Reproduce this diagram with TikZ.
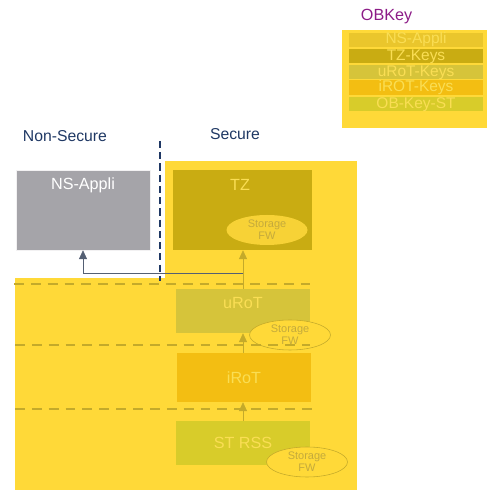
\documentclass[tikz,border=0pt]{standalone}
\usepackage{fontspec}
\setmainfont{Liberation Sans}
\usetikzlibrary{shapes.geometric,arrows.meta}
\definecolor{ylw}{RGB}{255,217,56}
\definecolor{tzc}{RGB}{201,172,18}
\definecolor{urotc}{RGB}{214,196,58}
\definecolor{irotc}{RGB}{243,190,18}
\definecolor{strssc}{RGB}{216,204,42}
\definecolor{nsbar}{RGB}{234,198,44}
\definecolor{olive}{RGB}{196,170,42}
\definecolor{pale}{RGB}{250,222,84}
\definecolor{stotxt}{RGB}{196,170,60}
\definecolor{nsgray}{RGB}{165,164,169}
\definecolor{navy}{RGB}{31,56,100}
\definecolor{obpurple}{RGB}{140,28,135}
\begin{document}
\begin{tikzpicture}
[blk/.style={rectangle,minimum width=3.35cm,inner sep=0pt},
 bar/.style={rectangle,minimum width=3.35cm,minimum height=0.35cm,inner sep=0pt,
   font=\fontsize{11}{11}\selectfont,text=pale},
 lbl/.style={font=\fontsize{11.5}{13}\selectfont,text=pale},
 sto/.style={ellipse,draw=olive,fill=ylw,minimum width=2.025cm,minimum height=0.75cm,
   inner sep=0pt,align=center,font=\fontsize{7.8}{8.6}\selectfont,text=stotxt},
 ar/.style={-{Triangle[length=2.2mm,width=2mm]},olive,thin},
 sep/.style={olive,line width=2pt,dash pattern=on 7pt off 5pt}]
\useasboundingbox (0,0) rectangle (12.2,12.25);

% OBKey
\node [anchor=west,text=obpurple,font=\fontsize{11.5}{13}\selectfont] at (8.9,11.825) (obtitle) {OBKey};
\node [rectangle,fill=ylw,minimum width=3.625cm,minimum height=2.45cm] at (10.3625,10.275) (obkey) {};
\node [bar,fill=nsbar] at (10.4,11.25) (kns) {NS-Appli};
\node [bar,fill=tzc] at (10.4,10.8375) (ktz) {TZ-Keys};
\node [bar,fill=urotc] at (10.4,10.4375) (kurot) {uRoT-Keys};
\node [bar,fill=irotc] at (10.4,10.0625) (kirot) {iROT-Keys};
\node [bar,fill=strssc] at (10.4,9.6375) (kst) {OB-Key-ST};

% zones
\node [text=navy,font=\fontsize{11.2}{12}\selectfont] at (1.625,8.85) (nstitle) {Non-Secure};
\node [text=navy,font=\fontsize{11.2}{12}\selectfont] at (5.875,8.9) (stitle) {Secure};
\fill [ylw] (4.125,5.25) rectangle (8.925,8.225);
\fill [ylw] (0.375,0) rectangle (8.925,5.3);

% boxes
\node [blk,fill=nsgray,draw=white!85!nsgray,minimum height=2cm] at (2.075,7) (nsappli) {};
\node [lbl,text=white] at (2.075,7.625) {NS-Appli};
\node [blk,fill=tzc,minimum width=3.475cm,minimum height=2cm] at (6.0625,7) (tz) {};
\node [lbl] at (6.0,7.625) {TZ};
\node [sto,draw=none,fill=ylw!97!black] at (6.675,6.5) (tzsto) {Storage\\FW};
\node [blk,fill=urotc,minimum height=1.1cm] at (6.075,4.475) (urot) {};
\node [lbl] at (6.075,4.675) {uRoT};
\node [blk,fill=irotc,minimum height=1.225cm] at (6.1,2.8125) (irot) {};
\node [lbl] at (6.1,2.8) {iRoT};
\node [blk,fill=strssc,minimum height=1.1cm] at (6.075,1.175) (strss) {};
\node [lbl] at (6.075,1.175) {ST RSS};
\node [sto] at (7.25,3.875) (urotsto) {Storage\\FW};
\node [sto] at (7.675,0.7) (strsssto) {Storage\\FW};

% separators
\draw [sep] (0.35,5.15) -- (7.75,5.15);
\draw [sep] (0.375,3.625) -- (7.75,3.625);
\draw [sep] (0.375,2.025) -- (7.8,2.025);
\draw [navy,line width=1.6pt,dash pattern=on 5pt off 3pt] (4.0,8.725) -- (4.0,5.225);

% arrows
\coordinate (split) at (6.075,5.425);
\draw [ar] (strss.north) -- (strss.north |- irot.south);
\draw [ar] (irot.north -| urot.north) -- (urot.south);
\draw [ar] (urot.north) -- (urot.north |- tz.south);
\draw [-{Triangle[length=2.2mm,width=2mm]},color=navy!45!gray,thin] (split) -| (nsappli.south);
\end{tikzpicture}
\end{document}
